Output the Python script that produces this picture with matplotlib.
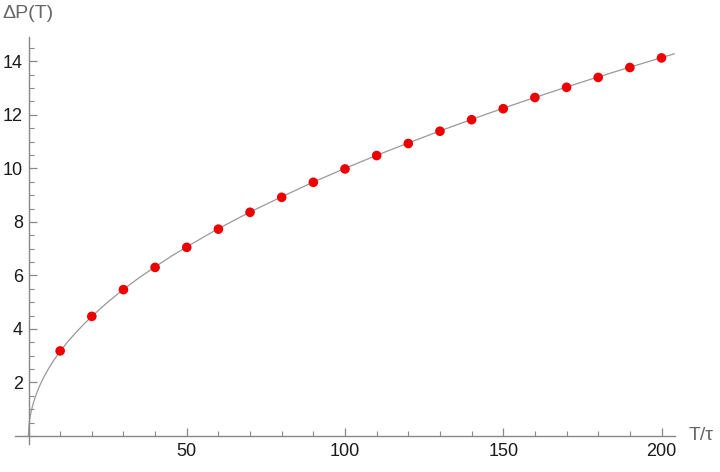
import matplotlib
matplotlib.use("Agg")
import matplotlib.pyplot as plt
from matplotlib.ticker import MultipleLocator

plt.rcParams['font.family'] = ['Liberation Sans', 'DejaVu Sans']

# data points
T_pts = [10, 20, 30, 40, 50, 60, 70, 80, 90, 100, 110, 120, 130, 140, 150, 160, 170, 180, 190, 200]
dP_pts = [3.18, 4.47, 5.47, 6.30, 7.05, 7.73, 8.36, 8.92, 9.48, 9.98, 10.48, 10.93, 11.39, 11.82, 12.23, 12.65, 13.03, 13.40, 13.77, 14.13]

# fitted curve
T_curve = [0, 0.1, 0.3, 0.6, 1, 1.5, 2, 3, 4, 5, 6.5, 8, 10, 12.5, 15, 17.5, 20, 25, 30, 35, 40, 45, 50,
           60, 70, 80, 90, 100, 110, 120, 130, 140, 150, 160, 170, 180, 190, 200, 204]
dP_curve = [0, 0.32, 0.55, 0.78, 1.0, 1.22, 1.41, 1.73, 2.0, 2.24, 2.55, 2.83, 3.16, 3.54, 3.87, 4.18, 4.47,
            5.0, 5.48, 5.92, 6.32, 6.71, 7.07, 7.75, 8.37, 8.94, 9.49, 10.0, 10.49, 10.95, 11.40, 11.83,
            12.25, 12.65, 13.04, 13.42, 13.78, 14.14, 14.28]

xticks = [50, 100, 150, 200]
yticks = [2, 4, 6, 8, 10, 12, 14]

fig = plt.figure(figsize=(7.2, 4.72), dpi=100)
W, H = 720, 472
x_left, x_right, y_bot, y_top = 15, 675, 444, 36.7
ax = fig.add_axes([x_left / W, 1 - y_bot / H, (x_right - x_left) / W, (y_bot - y_top) / H])
# x: 0 at 28.5px, 3.165 px/unit; y: 0 at 436px, 26.76 px/unit
ax.set_xlim((x_left - 28.5) / 3.165, (x_right - 28.5) / 3.165)
ax.set_ylim(-(y_bot - 436) / 26.76, (436 - y_top) / 26.76)

axcol = '#888888'
ax.plot(T_curve, dP_curve, color='#999999', lw=0.9, zorder=2, clip_on=False)
ax.scatter(T_pts, dP_pts, s=48, color='#EE0000', edgecolors='none', zorder=3, clip_on=False)

for s in ['top', 'right']:
    ax.spines[s].set_visible(False)
ax.spines['left'].set_position(('data', 0))
ax.spines['bottom'].set_position(('data', 0))
for s in ['left', 'bottom']:
    ax.spines[s].set_color(axcol)
    ax.spines[s].set_linewidth(1.0)

ax.set_xticks(xticks)
ax.set_yticks(yticks)
ax.xaxis.set_minor_locator(MultipleLocator(10))
ax.yaxis.set_minor_locator(MultipleLocator(0.5))
ax.tick_params(which='major', direction='in', length=6, width=0.9, color=axcol, labelsize=13,
               labelcolor='#1a1a1a')
ax.tick_params(which='minor', direction='in', length=3.5, width=0.8, color=axcol)
ax.tick_params(axis='x', pad=5)
ax.tick_params(axis='y', pad=4)

fig.text(2 / W, 1 - 13 / H, 'ΔP(T)', fontsize=14, color='#666666', ha='left', va='center')
fig.text(689 / W, 1 - 436 / H, 'T/τ', fontsize=14, color='#666666', ha='left', va='center')

fig.savefig('out.png', dpi=100)
